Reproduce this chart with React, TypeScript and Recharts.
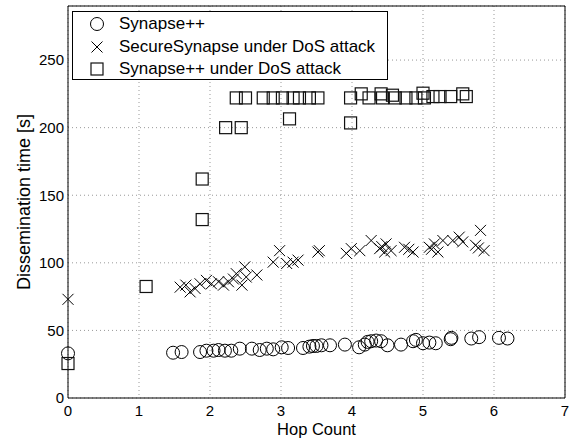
import React from 'react';
import { ScatterChart, Scatter, XAxis, YAxis, CartesianGrid, Legend } from 'recharts';

const xTicks = [0, 1, 2, 3, 4, 5, 6, 7];
const yTicks = [0, 50, 100, 150, 200, 250];
const seriesNames = ['Synapse++', 'SecureSynapse under DoS attack', 'Synapse++ under DoS attack'];

// Synapse++ (circles)
const plainHops = [0, 1.48, 1.6, 1.86, 1.95, 2.05, 2.12, 2.21, 2.3, 2.42, 2.59, 2.7, 2.8, 2.89, 3.01, 3.1, 3.31, 3.4, 3.45, 3.5, 3.57, 3.69, 3.9, 4.1, 4.18, 4.22, 4.27, 4.34, 4.41, 4.5, 4.69, 4.86, 4.9, 5.0, 5.09, 5.18, 5.39, 5.4, 5.68, 5.79, 6.07, 6.19];
const plainTimes = [33, 33.5, 34, 34, 35, 35, 35.5, 35, 35, 36.5, 36.5, 35.5, 36.5, 36, 37.5, 37, 37, 38, 38.5, 38.5, 39, 39, 39.5, 37.5, 39.5, 41.5, 42, 42.5, 42, 39, 39.5, 42, 43, 40.5, 41, 40.5, 43.5, 44.5, 44, 45, 44.5, 44];

// SecureSynapse under DoS attack (crosses)
const secureHops = [0, 1.58, 1.66, 1.72, 1.79, 1.86, 1.95, 2.02, 2.12, 2.19, 2.26, 2.33, 2.37, 2.45, 2.49, 2.51, 2.66, 2.89, 2.98, 3.08, 3.17, 3.24, 3.52, 3.54, 3.92, 3.99, 4.11, 4.27, 4.39, 4.42, 4.46, 4.48, 4.55, 4.74, 4.8, 4.86, 5.09, 5.12, 5.16, 5.21, 5.28, 5.42, 5.51, 5.56, 5.74, 5.78, 5.81, 5.86];
const secureTimes = [73, 82, 83.5, 78.5, 81, 84.5, 87, 84.5, 86, 83.5, 86, 88, 92, 83.5, 97, 89.5, 91, 100.5, 109, 99.5, 100.5, 102, 108, 109, 107, 110.5, 109, 116.5, 110.5, 112, 108, 114, 109, 111.5, 110, 108, 111.5, 110, 114, 108, 116.5, 116.5, 119, 115.5, 113, 111, 124, 109];

// Synapse++ under DoS attack (squares)
const dosHops = [0, 1.1, 1.89, 1.89, 2.22, 2.44, 2.37, 2.5, 2.75, 2.89, 3.02, 3.17, 3.12, 3.26, 3.4, 3.52, 3.98, 3.98, 4.13, 4.24, 4.41, 4.43, 4.57, 4.61, 4.76, 4.9, 5.0, 5.02, 5.14, 5.24, 5.39, 5.56, 5.61];
const dosTimes = [25.5, 82.5, 132, 162, 200, 200, 222, 222, 222, 222, 222, 222, 206.5, 222, 222, 222, 222, 203.5, 225, 222, 225, 222, 224, 222, 222, 222, 225.5, 222, 223, 223, 223, 225, 223];

const toPoints = (xs: number[], ys: number[]) => xs.map((x, i) => ({ x, y: ys[i] }));

const CircleMark = ({ cx, cy }: any) => (
  <circle cx={cx} cy={cy} r={6.5} fill="none" stroke="#000" strokeWidth={1} />
);
const CrossMark = ({ cx, cy }: any) => (
  <path d={`M${cx - 5.5},${cy - 5.5}L${cx + 5.5},${cy + 5.5}M${cx - 5.5},${cy + 5.5}L${cx + 5.5},${cy - 5.5}`} stroke="#000" strokeWidth={1} fill="none" />
);
const SquareMark = ({ cx, cy }: any) => (
  <rect x={cx - 6} y={cy - 6} width={12} height={12} fill="none" stroke="#111" strokeWidth={1.2} />
);
const marks = [CircleMark, CrossMark, SquareMark];

const LegendBox = () => (
  <div style={{ border: '1px solid #000', background: '#fff', width: 316, height: 69, boxSizing: 'border-box', paddingTop: 1 }}>
    {seriesNames.map((name, i) => {
      const Mark = marks[i];
      return (
        <div key={name} style={{ display: 'flex', alignItems: 'center', height: 22.5, fontSize: 17, color: '#000' }}>
          <svg width={46} height={22} style={{ flex: 'none' }}>
            <Mark cx={24} cy={11} />
          </svg>
          <span>{name}</span>
        </div>
      );
    })}
  </div>
);

const tickStyle = { fontSize: 15, fill: '#000' };

export default function App() {
  return (
    <div style={{ position: 'absolute', left: 0, top: 0, fontFamily: '"Liberation Sans", Arial, sans-serif', background: '#fff' }}>
      <ScatterChart width={584} height={440} margin={{ top: 6, right: 19, bottom: 0, left: 0 }}>
        <CartesianGrid stroke="#999" strokeDasharray="1 3" />
        <XAxis
          dataKey="x"
          type="number"
          domain={[0, 7]}
          ticks={xTicks}
          height={42}
          tickSize={0}
          tickMargin={7}
          tick={tickStyle}
          axisLine={{ stroke: '#000' }}
          label={{ value: 'Hop Count', position: 'insideBottom', offset: 5, fontSize: 16.5, fill: '#000' }}
        />
        <XAxis xAxisId="bottomTicks" type="number" domain={[0, 7]} ticks={xTicks} mirror tick={false} tickSize={5} axisLine={false} tickLine={{ stroke: '#000' }} />
        <XAxis xAxisId="top" orientation="top" type="number" domain={[0, 7]} ticks={xTicks} mirror tick={false} tickSize={5} axisLine={{ stroke: '#000' }} tickLine={{ stroke: '#000' }} />
        <YAxis
          dataKey="y"
          type="number"
          domain={[0, 290]}
          ticks={yTicks}
          width={68}
          tickSize={0}
          tickMargin={4}
          tick={tickStyle}
          axisLine={{ stroke: '#000' }}
          label={{ value: 'Dissemination time [s]', angle: -90, position: 'insideLeft', offset: 24, fontSize: 18, fill: '#000', style: { textAnchor: 'middle' } }}
        />
        <YAxis yAxisId="leftTicks" type="number" domain={[0, 290]} ticks={yTicks} mirror tick={false} tickSize={5} axisLine={false} tickLine={{ stroke: '#000' }} />
        <YAxis yAxisId="right" orientation="right" type="number" domain={[0, 290]} ticks={yTicks} mirror tick={false} tickSize={5} axisLine={{ stroke: '#000' }} tickLine={{ stroke: '#000' }} />
        <Legend
          verticalAlign="middle"
          align="center"
          content={() => <LegendBox />}
          wrapperStyle={{ left: 72, top: 11, width: 316 }}
        />
        <Scatter name={seriesNames[0]} data={toPoints(plainHops, plainTimes)} shape={CircleMark} isAnimationActive={false} />
        <Scatter name={seriesNames[1]} data={toPoints(secureHops, secureTimes)} shape={CrossMark} isAnimationActive={false} />
        <Scatter name={seriesNames[2]} data={toPoints(dosHops, dosTimes)} shape={SquareMark} isAnimationActive={false} />
      </ScatterChart>
    </div>
  );
}
